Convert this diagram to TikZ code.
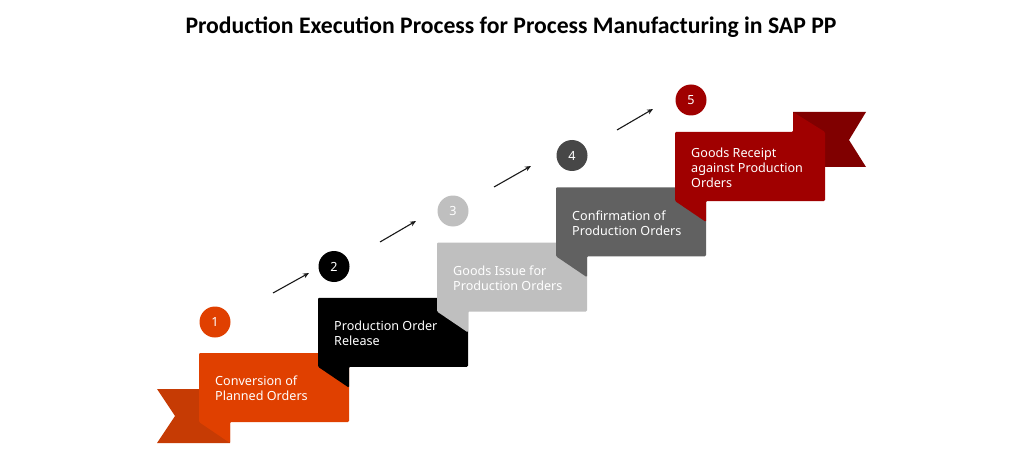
\documentclass[tikz,border=0pt]{standalone}
\usepackage{fontspec}
\setmainfont{Noto Sans}
\newfontfamily\titlefont{Carlito}
\usetikzlibrary{arrows.meta}
\definecolor{boxA}{HTML}{E04000}
\definecolor{tailA}{HTML}{C63B04}
\definecolor{boxB}{HTML}{000000}
\definecolor{boxC}{HTML}{BFBFBF}
\definecolor{boxD}{HTML}{616161}
\definecolor{circD}{HTML}{474747}
\definecolor{boxE}{HTML}{A00000}
\definecolor{tailE}{HTML}{800000}
\begin{document}
\begin{tikzpicture}[x=1pt,y=-1pt,
  boxtext/.style={text=white, font=\fontsize{12.6}{15}\selectfont, align=left, anchor=west, inner sep=0pt},
  numtext/.style={circle, minimum size=31pt, inner sep=0pt, text=white, font=\fontsize{12.6}{14}\selectfont},
  flow/.style={-{Stealth[length=6pt,width=5pt]}, line width=1.1pt, draw=black!90},
  ribbonshape/.style={rounded corners=1.2pt}]
\useasboundingbox (0,0) rectangle (1024,457);
\node[font=\titlefont\bfseries\fontsize{23.7}{28}\selectfont] (title) at (511,27.5) {Production Execution Process for Process Manufacturing in SAP PP};
% tails
\fill[tailA] (157,389) -- (230,389) -- (230,443) -- (157,443) -- (175,416) -- cycle;
\fill[tailE] (793,112) -- (866,112) -- (849,140) -- (866,167) -- (793,167) -- cycle;
% boxes 1-4
\foreach \i/\col in {0/boxA,1/boxB,2/boxC,3/boxD}{
  \pgfmathsetmacro{\L}{199+119*\i}
  \pgfmathsetmacro{\T}{353-55.25*\i}
  \fill[\col,ribbonshape] (\L,\T) -- ({\L+150},\T) -- ({\L+150},{\T+69}) -- ({\L+31},{\T+69}) -- ({\L+31},{\T+90}) -- (\L,{\T+69}) -- cycle;
}
% box 5 with top-right flap
\fill[boxE,ribbonshape] (675,132) -- (793,132) -- (793,112) -- (825,132) -- (825,201) -- (706,201) -- (706,222) -- (675,201) -- cycle;
% texts
\node[boxtext] (t1) at (215,388.5) {Conversion of\\Planned Orders};
\node[boxtext] (t2) at (334,333.25) {Production Order\\Release};
\node[boxtext] (t3) at (453,278) {Goods Issue for\\Production Orders};
\node[boxtext] (t4) at (572,222.75) {Confirmation of\\Production Orders};
\node[boxtext] (t5) at (691,167.5) {Goods Receipt\\against Production\\Orders};
% circles
\node[numtext, fill=boxA] (n1) at (215,322) {1};
\node[numtext, fill=boxB] (n2) at (334,266.5) {2};
\node[numtext, fill=boxC] (n3) at (453,211) {3};
\node[numtext, fill=circD] (n4) at (572,155.5) {4};
\node[numtext, fill=boxE] (n5) at (691,100) {5};
% arrows
\coordinate (a1s) at (273,293); \coordinate (a1e) at (309,273);
\coordinate (a2s) at (380,242); \coordinate (a2e) at (416,221);
\coordinate (a3s) at (494,187); \coordinate (a3e) at (531,166);
\coordinate (a4s) at (617,130); \coordinate (a4e) at (653,109);
\draw[flow] (a1s) -- (a1e);
\draw[flow] (a2s) -- (a2e);
\draw[flow] (a3s) -- (a3e);
\draw[flow] (a4s) -- (a4e);
\end{tikzpicture}
\end{document}
